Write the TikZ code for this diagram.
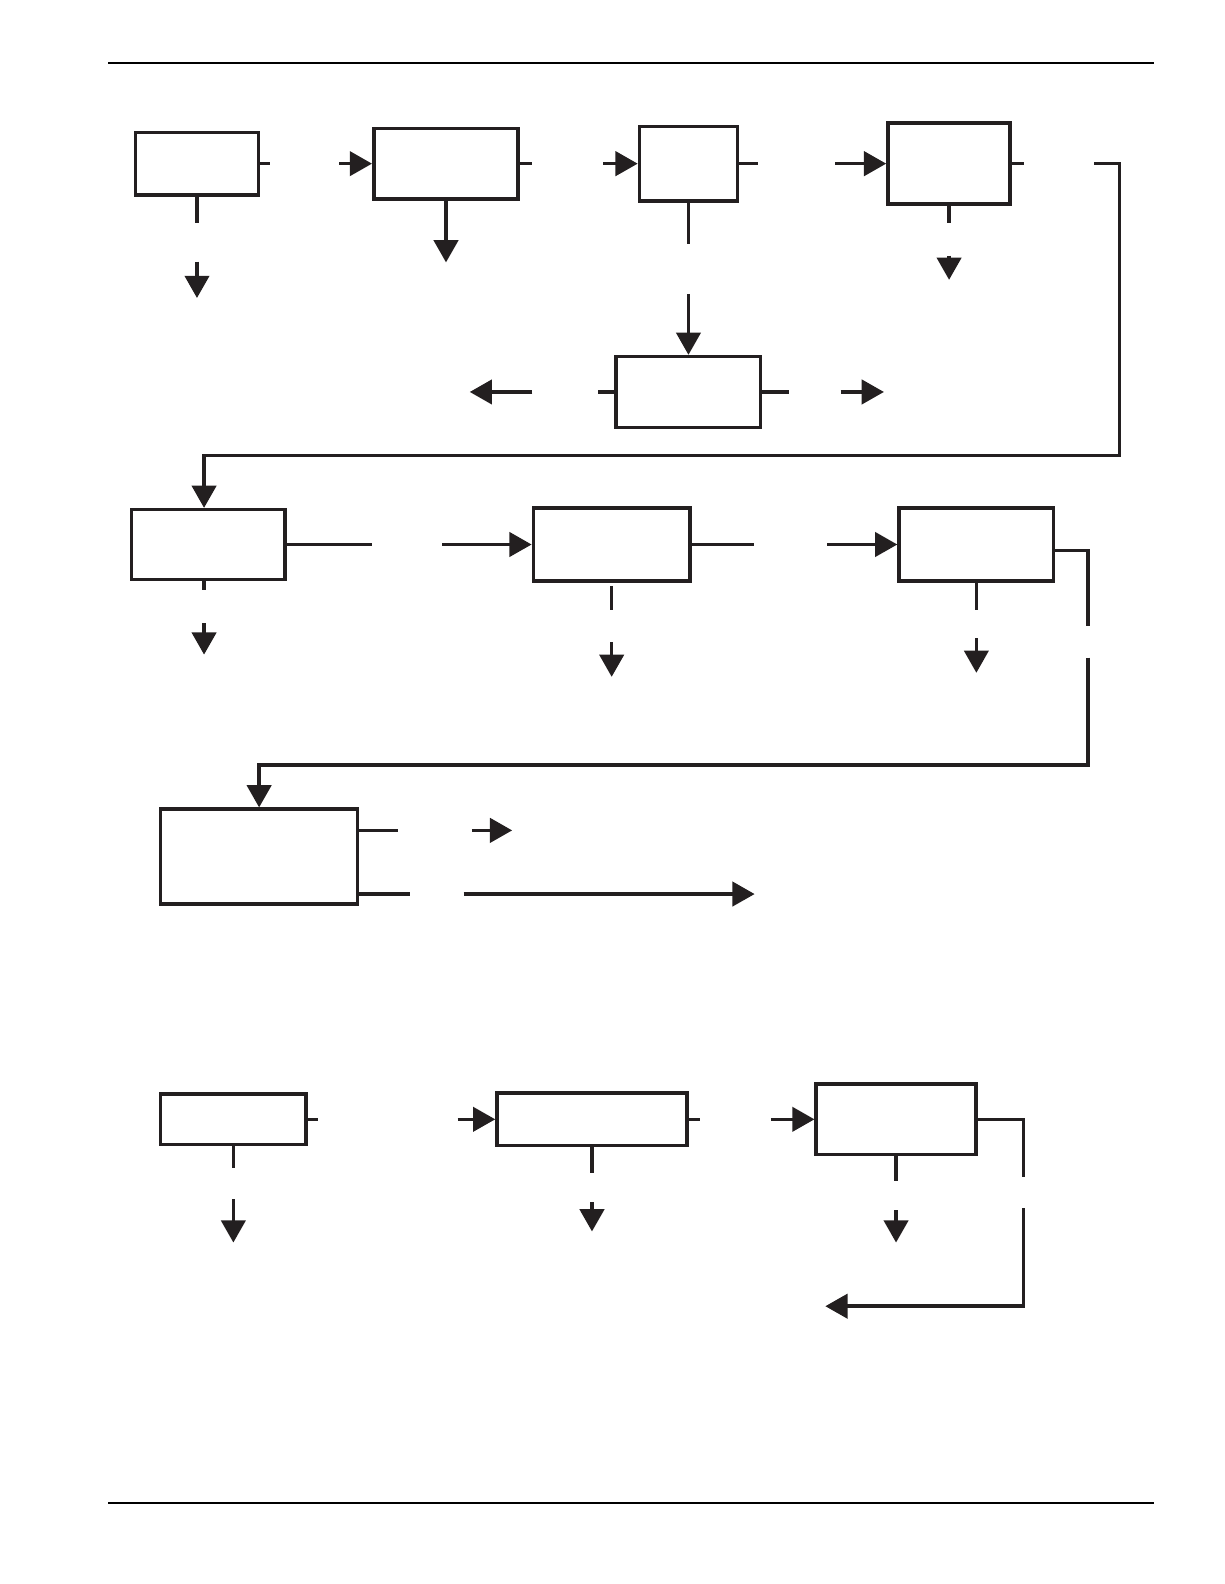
\documentclass[tikz,border=0pt]{standalone}
\usetikzlibrary{arrows.meta}
\definecolor{ink}{HTML}{231F20}
\tikzset{
  box/.style={draw=ink, line width=1.75pt, inner sep=0pt, fill=white},
  ln/.style={draw=ink, line width=1.75pt},
  arr/.style={draw=ink, line width=1.75pt, -{Triangle[length=11pt,width=12pt]}},
  rulel/.style={draw=black, line width=1.1pt}
}
\begin{document}
\begin{tikzpicture}[x=0.5pt, y=-0.5pt]
\useasboundingbox (0,0) rectangle (1212,1568);
% page rules
\coordinate (r1a) at (107,62);  \coordinate (r1b) at (1142,62);
\coordinate (r2a) at (107,1488); \coordinate (r2b) at (1142,1488);
\draw[rulel] (r1a) -- (r1b);
\draw[rulel] (r2a) -- (r2b);

% boxes
\node[box, minimum width=61pt,   minimum height=31pt] (A) at (195,162) {};
\node[box, minimum width=71.5pt, minimum height=35pt] (B) at (441.5,162) {};
\node[box, minimum width=48.5pt, minimum height=37pt] (C) at (681.5,162) {};
\node[box, minimum width=60.5pt, minimum height=40pt] (D) at (939.5,162) {};
\node[box, minimum width=71.5pt, minimum height=35pt] (F) at (681.5,388) {};
\node[box, minimum width=76pt,   minimum height=34.5pt] (E) at (206,539) {};
\node[box, minimum width=77.5pt, minimum height=36pt] (G) at (605.5,539) {};
\node[box, minimum width=76.5pt, minimum height=36pt] (H) at (966.5,539) {};
\node[box, minimum width=97.5pt, minimum height=47pt] (I) at (256.5,848) {};
\node[box, minimum width=72pt,   minimum height=25pt] (J) at (231,1108) {};
\node[box, minimum width=94pt,   minimum height=26pt] (K) at (586,1108) {};
\node[box, minimum width=79pt,   minimum height=35pt] (L) at (887,1108) {};

% row 1
\draw[ln] (A.east) -- ++(10,0);
\draw[ln] (A.south) -- ++(0,26);
\coordinate (a1) at (195,259); \coordinate (a2) at (195,295);
\draw[arr] (a1) -- (a2);
\coordinate (b0) at (336,162);
\draw[arr] (b0) -- (B.west);
\draw[ln] (B.east) -- ++(12,0);
\draw[arr] (B.south) -- ++(0,61);
\coordinate (c0) at (597,162);
\draw[arr] (c0) -- (C.west);
\draw[ln] (C.east) -- ++(19,0);
\draw[ln] (C.south) -- ++(0,41);
\coordinate (f0) at (681.5,291);
\draw[arr] (f0) -- (F.north);
\coordinate (d0) at (827,162);
\draw[arr] (d0) -- (D.west);
\draw[ln] (D.east) -- ++(12,0);
\draw[ln] (D.south) -- ++(0,17);
\coordinate (d1) at (939.5,253); \coordinate (d2) at (939.5,277);
\draw[arr] (d1) -- (d2);
\coordinate (e0) at (1083,162);
\draw[arr] (e0) -| (1108,451) -| ([xshift=-2pt]E.north);

% F
\draw[ln] (F.west) -- ++(-16,0);
\draw[ln] (F.east) -- ++(26,0);
\coordinate (fl1) at (527,388); \coordinate (fl2) at (465,388);
\draw[arr] (fl1) -- (fl2);
\coordinate (fr1) at (832,388); \coordinate (fr2) at (875,388);
\draw[arr] (fr1) -- (fr2);

% row 2
\draw[ln] (E.east) -- ++(84,0);
\draw[ln] ([xshift=-2pt]E.south) -- ++(0,9);
\coordinate (e1) at (202,617); \coordinate (e2) at (202,648);
\draw[arr] (e1) -- (e2);
\coordinate (g0) at (438,539);
\draw[arr] (g0) -- (G.west);
\draw[ln] (G.east) -- ++(62,0);
\coordinate (gs1) at (605.5,580); \coordinate (gs2) at (605.5,604);
\draw[ln] (gs1) -- (gs2);
\coordinate (g1) at (605.5,636); \coordinate (g2) at (605.5,670);
\draw[arr] (g1) -- (g2);
\coordinate (h0) at (819,539);
\draw[arr] (h0) -- (H.west);
\draw[ln] (H.south) -- ++(0,27);
\coordinate (h1) at (966.5,632); \coordinate (h2) at (966.5,666);
\draw[arr] (h1) -- (h2);
\coordinate (hr) at (1077,620);
\draw[ln] ([yshift=-3pt]H.east) -| (hr);
\coordinate (hr2) at (1077,651);
\draw[arr] (hr2) -- (1077,757) -| (I.north);

% row 3
\draw[ln] ([yshift=13pt]I.east) -- ++(38,0);
\coordinate (i1) at (467,822); \coordinate (i2) at (507,822);
\draw[arr] (i1) -- (i2);
\draw[ln] ([yshift=-18.5pt]I.east) -- ++(50,0);
\coordinate (i3) at (459,885); \coordinate (i4) at (747,885);
\draw[arr] (i3) -- (i4);

% row 4
\draw[ln] (J.east) -- ++(10,0);
\draw[ln] (J.south) -- ++(0,21);
\coordinate (j1) at (231,1187); \coordinate (j2) at (231,1230);
\draw[arr] (j1) -- (j2);
\coordinate (k0) at (453,1108);
\draw[arr] (k0) -- (K.west);
\draw[ln] (K.east) -- ++(11,0);
\draw[ln] (K.south) -- ++(0,25);
\coordinate (k1) at (586,1190); \coordinate (k2) at (586,1219);
\draw[arr] (k1) -- (k2);
\coordinate (l0) at (763,1108);
\draw[arr] (l0) -- (L.west);
\draw[ln] (L.south) -- ++(0,24);
\coordinate (l1) at (887,1198); \coordinate (l2) at (887,1230);
\draw[arr] (l1) -- (l2);
\coordinate (lr) at (1013,1165);
\draw[ln] (L.east) -| (lr);
\coordinate (lr2) at (1013,1196); \coordinate (lr3) at (817,1293);
\draw[arr] (lr2) |- (lr3);
\end{tikzpicture}
\end{document}
